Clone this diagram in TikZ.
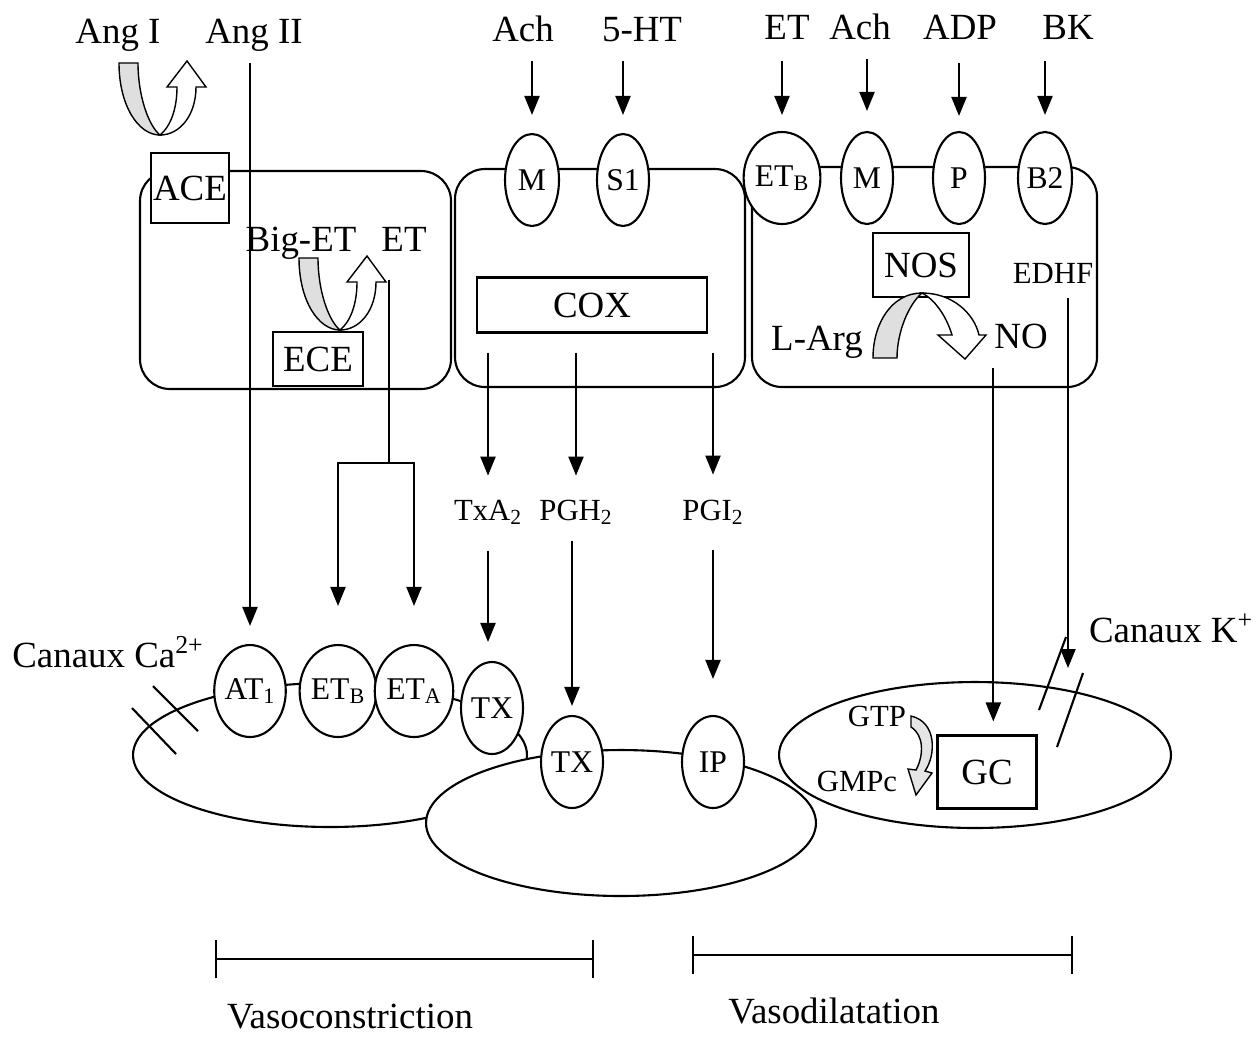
\documentclass[tikz,border=0pt]{standalone}
\usepackage{fontspec}
\setmainfont{Liberation Serif}
\usepackage{tikz}
\usetikzlibrary{shapes.geometric, arrows.meta, positioning, calc}

\begin{document}
\begin{tikzpicture}[x=0.02cm, y=-0.02cm, line width=1.2pt,
  >={Triangle[length=0.38cm, width=0.3cm]},
  lab/.style={inner sep=0pt, anchor=base, font=\fontsize{21}{24}\selectfont},
  slab/.style={inner sep=0pt, anchor=base, font=\fontsize{17.5}{20}\selectfont},
  rec/.style={ellipse, draw, fill=white, inner sep=0pt, minimum width=#1, minimum height=1.84cm, font=\fontsize{18}{20}\selectfont},
  enz/.style={draw, fill=white, inner sep=0pt, font=\fontsize{21}{24}\selectfont},
  cell/.style={draw, rounded corners=0.6cm},
  blob/.style={ellipse, draw, inner sep=0pt},
  uturn/.pic={
    \draw[line width=0.8pt, fill=gray!25] (0,0) .. controls (-22,0) and (-41,-30) .. (-41,-72) -- (-22,-72) .. controls (-22,-40) and (-12,-10) .. (0,0) -- cycle;
    \draw[line width=0.8pt, fill=white] (0,0) .. controls (20,0) and (36,-20) .. (36,-48) -- (46,-48) -- (27,-74) -- (7,-48) -- (17,-48) .. controls (17,-25) and (10,-8) .. (0,0) -- cycle;
  },
  arch/.pic={
    \draw[line width=0.8pt, fill=gray!25] (0,0) .. controls (-30,0) and (-49,30) .. (-49,65) -- (-25,65) .. controls (-25,40) and (-14,12) .. (0,0) -- cycle;
    \draw[line width=0.8pt, fill=white] (0,0) .. controls (30,0) and (52,20) .. (57,42) -- (64,42) -- (43,66) -- (16,42) -- (30,42) .. controls (24,22) and (12,6) .. (0,0) -- cycle;
  }]
\useasboundingbox (0,0) rectangle (1256,1036);

% Endothelial cells
\draw[cell] (140,171) rectangle (451,389);
\draw[cell] (455,169) rectangle (745,387);
\draw[cell] (752,167) rectangle (1097,387);

% Enzymes
\node[enz, minimum width=1.56cm, minimum height=1.4cm] (ace) at (190,188) {ACE};
\node[enz, minimum width=1.8cm, minimum height=1.08cm] (ece) at (318,359) {ECE};
\node[enz, minimum width=4.6cm, minimum height=1.1cm] (cox) at (592,305) {COX};
\node[enz, minimum width=1.92cm, minimum height=1.28cm] (nos) at (921,265) {NOS};

% Endothelial receptors
\node[rec=1.08cm] (mA) at (532,180) {M};
\node[rec=1.04cm] (s1) at (623,180) {S1};
\node[rec=1.48cm] (etBtop) at (782,178) {ET\textsubscript{B}};
\node[rec=1.04cm] (mB) at (867,178) {M};
\node[rec=1.04cm] (pR) at (959,178) {P};
\node[rec=1.08cm] (b2) at (1045,178) {B2};

% Smooth muscle cells
\node[blob, minimum width=7.88cm, minimum height=2.88cm] (cellA) at (330,755) {};
\node[blob, fill=white, minimum width=7.8cm, minimum height=2.92cm] (cellB) at (621,823) {};
\node[blob, minimum width=7.84cm, minimum height=2.92cm] (cellC) at (975,755) {};
\node[enz, minimum width=1.98cm, minimum height=1.46cm] (gc) at (987,772) {GC};

% Muscle receptors
\node[rec=1.28cm] (at1) at (250,691) {AT\textsubscript{1}};
\node[rec=1.44cm] (etBlow) at (338,691) {ET\textsubscript{B}};
\node[rec=1.24cm] (etA) at (414,691) {ET\textsubscript{A}};
\node[rec=1.24cm] (tx1) at (492,708) {TX};
\node[rec=1.24cm] (tx2) at (572,762) {TX};
\node[rec=1.24cm] (ip) at (713,762) {IP};

% Labels
\node[lab] (angI) at (118,43) {Ang I};
\node[lab] (angII) at (254,43) {Ang II};
\node[lab] (achA) at (523,41) {Ach};
\node[lab] (ht5) at (642,41) {5-HT};
\node[lab] (etR) at (787,39) {ET};
\node[lab] (achR) at (860,39) {Ach};
\node[lab] (adp) at (960,39) {ADP};
\node[lab] (bk) at (1068,39) {BK};
\node[lab] (bigET) at (301,251) {Big-ET};
\node[lab] (etL) at (404,251) {ET};
\node[lab] (larg) at (817,350) {L-Arg};
\node[lab] (no) at (1021,348) {NO};
\node[slab] (edhf) at (1053,283) {EDHF};
\node[slab] (txa2) at (488,520) {TxA\textsubscript{2}};
\node[slab] (pgh2) at (576,520) {PGH\textsubscript{2}};
\node[slab] (pgi2) at (713,520) {PGI\textsubscript{2}};
\node[lab] (caCh) at (108,667) {Canaux Ca\textsuperscript{2+}};
\node[lab] (kCh) at (1171,642) {Canaux K\textsuperscript{+}};
\node[slab] (gtp) at (877,726) {GTP};
\node[slab] (gmpc) at (857,791) {GMPc};
\node[lab] (vc) at (350,1028) {Vasoconstriction};
\node[lab] (vd) at (834,1023) {Vasodilatation};

% Agonists
\draw[->, shorten <=0.38cm, shorten >=0.36cm] (mA.north |- achA.south) -- (mA.north);
\draw[->, shorten <=0.38cm, shorten >=0.36cm] (s1.north |- ht5.south) -- (s1.north);
\draw[->, shorten <=0.42cm, shorten >=0.32cm] (etBtop.north |- etR.south) -- (etBtop.north);
\draw[->, shorten <=0.38cm, shorten >=0.4cm] (mB.north |- achR.south) -- (mB.north);
\draw[->, shorten <=0.46cm, shorten >=0.3cm] (pR.north |- adp.south) -- (pR.north);
\draw[->, shorten <=0.42cm, shorten >=0.32cm] (b2.north |- bk.south) -- (b2.north);
\draw[->, shorten <=0.22cm, shorten >=0.36cm] (at1.north |- angII.south) -- (at1.north);

% Endothelin
\coordinate (etsrc) at (389,280);
\coordinate (fork) at (389,463);
\draw (etsrc) -- (fork);
\draw[<->, shorten <=0.76cm, shorten >=0.76cm] (etBlow.north) |- (fork) -| (etA.north);

% Prostanoids
\draw[->, shorten <=0.38cm, shorten >=0.46cm] (txa2.north |- cox.south) -- (txa2.north);
\draw[->, shorten <=0.38cm, shorten >=0.46cm] (pgh2.north |- cox.south) -- (pgh2.north);
\draw[->, shorten <=0.38cm, shorten >=0.48cm] (pgi2.north |- cox.south) -- (pgi2.north);
\draw[->, shorten <=0.5cm, shorten >=0.38cm] (txa2.south) -- (txa2.south |- tx1.north);
\draw[->, shorten <=0.3cm, shorten >=0.18cm] (tx2.north |- pgh2.south) -- (tx2.north);
\draw[->, shorten <=0.48cm, shorten >=0.72cm] (ip.north |- pgi2.south) -- (ip.north);

% NO and EDHF
\draw[->, shorten <=0.38cm, shorten >=0.26cm] (no.south west) -- (no.south west |- gc.north);
\coordinate (kin) at (1068,668);
\draw[->, shorten <=0.28cm] (kin |- edhf.south) -- (kin);

% Channels
\draw (153,686) -- (198,731) (132,708) -- (176,754);
\draw (1039,710) -- (1066,637) (1057,747) -- (1083,673);

% Conversions
\pic at (160,135) {uturn};
\pic at (340,330) {uturn};
\pic at (922,293) {arch};
\draw[line width=0.8pt, fill=gray!20] (911,716) .. controls (937,722) and (936,755) .. (925,771) -- (932,773) -- (916,795) -- (908,769) -- (916,770) .. controls (924,755) and (924,735) .. (911,727) -- cycle;

% Effects
\draw[{Bar[width=0.76cm]}-{Bar[width=0.76cm]}] (215,959) -- (594,959);
\draw[{Bar[width=0.76cm]}-{Bar[width=0.76cm]}] (692,955) -- (1073,955);
\end{tikzpicture}
\end{document}
